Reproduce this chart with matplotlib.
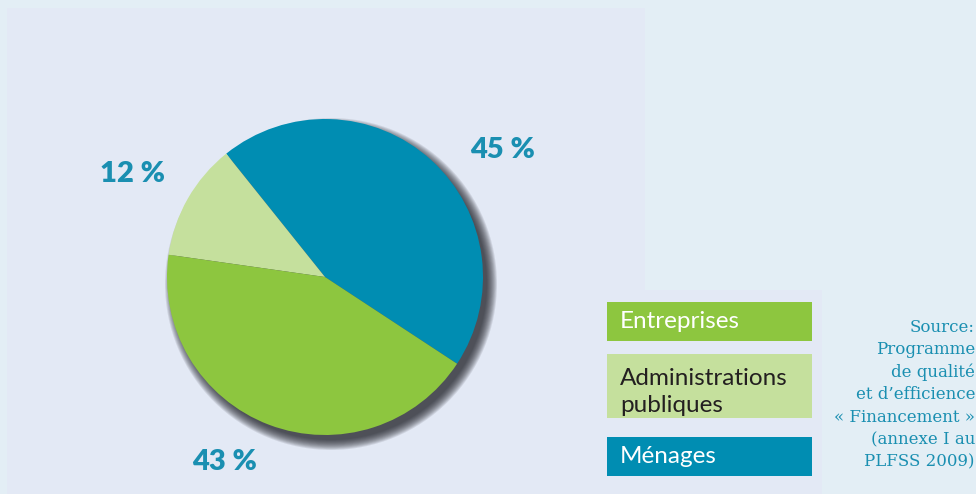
import matplotlib.pyplot as plt
from matplotlib.patches import Circle, Rectangle

W, H = 976, 494

labels = ["Ménages", "Administrations\npubliques", "Entreprises"]
shares = [45, 12, 43]
pct_text = ["45 %", "12 %", "43 %"]
colors = ["#008db2", "#c5e09d", "#8dc63f"]

legend_order = ["Entreprises", "Administrations\npubliques", "Ménages"]
legend_colors = ["#8dc63f", "#c5e09d", "#008db2"]
legend_text_colors = ["white", "#231f20", "white"]

source_lines = ["Source:", "Programme", "de qualité", "et d’efficience",
                "« Financement »", "(annexe I au", "PLFSS 2009)"]

TEAL = "#1a8fb1"


def Y(y):
    # image coords (top-down) -> axes coords (bottom-up)
    return H - y


fig = plt.figure(figsize=(W / 100, H / 100), dpi=100, facecolor="#e3eef5")
ax = fig.add_axes([0, 0, 1, 1])
ax.set_xlim(0, W)
ax.set_ylim(0, H)
ax.set_aspect("equal")
ax.axis("off")

# panels
ax.add_patch(Rectangle((7, 0), 638, Y(8), facecolor="#e3e9f5", edgecolor="none", zorder=0))
ax.add_patch(Rectangle((645, 0), 177, Y(290), facecolor="#e3e9f5", edgecolor="none", zorder=0))

cx, cy, r = 325, Y(277), 158

# soft shadow to lower right
for i in range(12):
    ax.add_patch(Circle((cx + 6, cy - 7), r + 8 - i * 0.9, facecolor="#1a1a22",
                        alpha=0.1, edgecolor="none", zorder=1))

ax.pie(shares, colors=colors, startangle=-33.3, counterclock=True,
       center=(cx, cy), radius=r, frame=True,
       wedgeprops=dict(linewidth=0, zorder=2))
ax.set_xlim(0, W)
ax.set_ylim(0, H)
ax.axis("off")

pct_pos = [(503, 150), (132, 174), (225, 462)]
for t, (x, y) in zip(pct_text, pct_pos):
    ax.text(x, Y(y), t, color=TEAL, fontsize=21, fontweight="heavy",
            family="Lato", ha="center", va="center", zorder=3)

# legend boxes
boxes = [(302, 341), (354, 418), (437, 476)]
text_y = [321, 392, 456]
for name, c, tc, (y0, y1), ty in zip(legend_order, legend_colors, legend_text_colors, boxes, text_y):
    ax.add_patch(Rectangle((607, Y(y1)), 205, y1 - y0, facecolor=c, edgecolor="none", zorder=2))
    ax.text(620, Y(ty), name, color=tc, fontsize=17.5, family="Lato",
            ha="left", va="center", linespacing=1.35, zorder=3)

for i, line in enumerate(source_lines):
    ax.text(975, Y(327 + i * 22.5), line, color=TEAL, fontsize=12, family="DejaVu Serif",
            ha="right", va="center", zorder=3)

fig.savefig("out.png", dpi=100, facecolor=fig.get_facecolor())
